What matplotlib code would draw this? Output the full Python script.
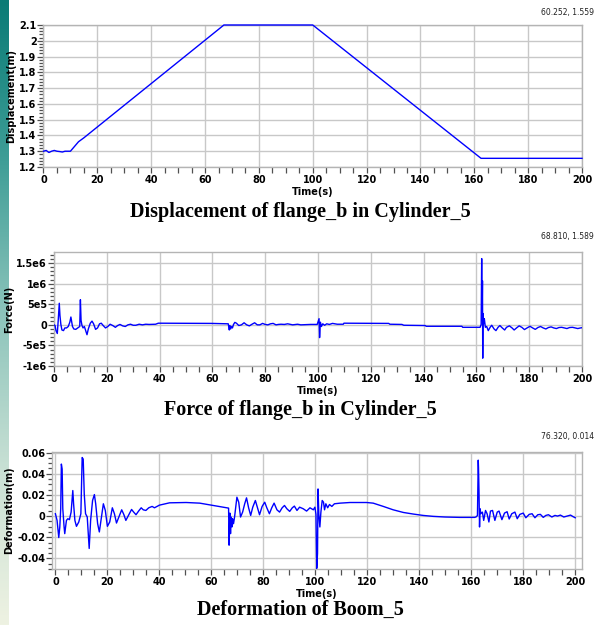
import numpy as np
import matplotlib
matplotlib.use("Agg")
import matplotlib.pyplot as plt
from matplotlib.ticker import MultipleLocator, FixedLocator, FixedFormatter
from matplotlib.colors import LinearSegmentedColormap

# ---------------- data ----------------
disp_t = [0, 1, 2, 3, 4, 5, 6, 7, 8, 9, 10, 11.5, 13, 15, 67, 100, 162.5, 200]
disp_m = [1.300, 1.305, 1.292, 1.300, 1.305, 1.300, 1.298, 1.295, 1.300, 1.300, 1.300,
          1.330, 1.360, 1.385, 2.100, 2.100, 1.255, 1.255]

force_t = [0, 0.4, 0.75, 1.25, 1.6, 2.0, 2.25, 2.6, 3.0, 3.6, 4.1, 4.75, 5.4, 6.0, 6.4, 6.6,
           7.0, 7.5, 8.25, 9.0, 9.75, 10.0, 10.25, 10.6, 11.0, 11.5, 12.0, 12.5, 13.0, 13.75,
           14.4, 15.0, 15.75, 16.5, 17.25, 17.9, 18.75, 19.5, 20.4, 21.25, 22.25, 23.25, 24.1,
           25.0, 26.0, 27.0, 28.0, 29.0, 30.0, 31.0, 32.25, 33.5, 34.75, 36.0, 38.5, 39.5,
           59.75, 66.0, 66.4, 66.6, 66.9, 67.3, 67.6, 68.0, 68.5, 69.1, 70.0, 71.0, 72.0, 73.0,
           74.0, 75.0, 76.0, 77.0, 78.0, 79.0, 80.0, 81.0, 82.0, 83.0, 84.1, 85.0, 86.0, 87.25,
           88.5, 90.4, 92.25, 93.5, 97.2, 99.7, 100.4, 100.6, 100.9, 101.3, 101.8, 102.5,
           103.3, 104.3, 105.5, 107.3, 109.6, 109.8, 126.8, 127.2, 131.8, 132.5, 140.6, 141.0,
           154.5, 154.8, 161.4, 161.8, 162.0, 162.15, 162.3, 162.4, 162.5, 162.8, 163.0, 163.4,
           163.9, 164.5, 165.2, 165.8, 166.7, 167.4, 168.2, 168.9, 169.8, 170.7, 171.4, 172.5,
           173.5, 174.3, 175.2, 176.2, 177.2, 178.2, 179.2, 180.3, 181.3, 182.3, 183.3, 184.3,
           185.3, 186.3, 187.3, 188.3, 189.3, 190.3, 191.3, 192.3, 193.3, 194.3, 195.3, 196.4,
           197.4, 198.4, 199.4, 200.0]
force_1e5N = [0, -0.17, -1.4, -2.1, 1.1, 5.25, 2.3, 0.1, -1.25, -1.4, -0.75, -0.75, -0.4, 0.65,
              1.9, 1.1, -0.4, -1.0, -1.1, -0.75, -0.4, 6.1, 1.1, -0.17, -0.75, -0.4, -1.4, -2.4,
              -1.0, 0.4, 0.9, 0.25, -1.1, -0.75, 0.25, 0.4, -0.25, -0.75, -0.4, 0.15, -0.17,
              -0.6, -0.17, 0.1, -0.25, -0.4, 0, 0.15, -0.1, -0.1, 0.15, 0, 0.15, 0.1, 0.15, 0.4,
              0.35, 0.25, -1.25, -0.17, -1.0, -0.4, -0.75, 0.1, 0.6, 0.4, -0.17, 0, 0.5, 0,
              -0.25, 0.15, 0.5, 0, 0, 0.35, 0.1, 0, 0.25, 0.35, 0, 0.1, 0.15, 0.1,
              0.25, 0, 0.15, 0, 0.1, 0.1, 1.5, -3.1, 0.65, -0.4, 0.25, -0.1,
              0.25, 0.1, 0.35, 0.15, 0.15, 0.4, 0.35, 0.15, 0.1, -0.1, -0.17, -0.35,
              -0.35, -0.6, -0.6, 0.1, 16.1, 1.1, 10.7, -8.1, 2.75, 0.25, 1.5, -0.6,
              -0.4, -1.4, -0.6, -0.1, -1.0, -1.4, -0.6, -0.17, -0.75, -1.25, -0.6, -0.25,
              -0.75, -1.25, -0.75, -0.25, -0.6, -1.15, -0.75, -0.35, -0.75, -1.1, -0.65, -0.4,
              -0.75, -1.0, -0.65, -0.5, -0.75, -0.9, -0.65, -0.6, -0.75, -0.9, -0.65, -0.6,
              -0.75, -0.9, -0.75, -0.7]

deform_t = [0, 0.65, 1.3, 1.7, 2.05, 2.3, 2.6, 2.85, 3.35, 3.6, 4.25, 4.8, 5.4, 6.05, 6.7, 7.0,
            7.5, 8.1, 9.0, 9.8, 10.3, 10.7, 11.1, 11.6, 12.25, 12.65, 13.0, 13.55, 14.3, 15.0,
            15.5, 16.25, 16.9, 17.7, 18.45, 19.2, 20.0, 20.9, 21.9, 22.7, 23.5, 24.4, 25.5,
            26.3, 27.1, 28.1, 29.3, 30.1, 31.0, 32.0, 33.0, 33.8, 34.8, 35.9, 37.2, 38.1, 40.0,
            43.9, 50.3, 55.5, 60.6, 66.6, 66.8, 67.1, 67.35, 67.6, 67.9, 68.1, 68.5, 68.9, 69.3,
            69.8, 70.5, 71.2, 72.0, 72.8, 73.5, 74.3, 75.1, 75.9, 76.9, 77.7, 78.5, 79.5, 80.5,
            81.3, 82.3, 83.2, 84.1, 85.2, 86.2, 87.2, 88.1, 89.0, 90.1, 91.1, 91.9, 92.9, 93.9,
            95.3, 96.6, 97.9, 99.2, 99.8, 100.2, 100.5, 100.8, 101.0, 101.3, 101.7, 102.1,
            102.6, 103.1, 103.5, 104.0, 104.7, 105.4, 106.3, 107.3, 109.5, 113.3, 119.7, 122.2,
            126.1, 129.9, 133.8, 137.6, 141.4, 145.3, 149.8, 155.5, 161.3, 161.9, 162.3, 162.6,
            162.7, 162.9, 163.1, 163.3, 163.6, 164.2, 164.7, 165.4, 166.0, 166.7, 167.3, 168.1,
            169.0, 169.9, 170.6, 171.7, 172.7, 173.7, 174.5, 175.5, 176.7, 177.6, 178.6, 179.9,
            180.9, 182.2, 183.3, 184.4, 185.5, 186.5, 187.6, 188.6, 189.6, 190.9, 192.1, 193.1,
            194.2, 195.5, 196.8, 198.1, 199.1, 199.9]
deform_mm = [2.2, -4.1, -20.3, -10.3, 6.9, 49.1, 44.4, 6.9, -10.3, -16.6, -4.1, -2.5, -3.4, 3.75,
             24.1, 11.6, -4.1, -9.7, -5.6, 2.2, 55.3, 53.8, 20.9, 2.2, -0.9, -16.6, -30.6, -4.1,
             14.7, 20.3, 11.6, -7.2, -15.0, -0.9, 11.6, 5.3, -9.7, -5.6, 7.8, 2.2, -6.6, -0.9,
             5.9, 1.6, -4.1, 0.6, 6.25, 3.75, 1.25, 4.7, 7.8, 5.9, 5.3, 7.8, 9.1, 7.8, 10.3,
             12.5, 12.8, 12.2, 10.0, 7.5, -27.5, 2.8, -16.6, -0.9, -10.3, -2.5, -7.2, -0.9, 7.8,
             17.8, 13.1, -0.9, 3.75, 11.6, 17.2, 7.8, 0.6, 8.4, 14.7, 7.8, 1.25, 9.1, 13.1,
             7.8, 2.2, 7.8, 12.2, 5.9, 3.75, 7.8, 10.0, 6.9, 4.4, 7.8, 9.4, 5.3, 8.4,
             6.9, 4.7, 7.8, 5.9, 8.4, 1.6, -49.4, -35.3, 25.6, 2.2, -10.3, 3.75,
             14.7, 13.1, 5.9, 11.6, 7.8, 10.9, 9.1, 11.6, 12.2, 12.8, 12.8, 12.2,
             9.1, 5.9, 3.4, 1.9, 0.6, -0.3, -0.9, -1.25, -1.25, -0.6, 0.6, 52.8,
             45.9, 22.5, -10.3, 6.9, 2.2, 3.75, -4.1, 5.3, 2.2, -5.6, 4.7, 5.3,
             -4.1, 3.75, 4.7, -3.4, 2.8, 4.1, -2.8, 2.2, 3.75, -2.5, 1.6, 2.8,
             -1.6, 1.6, 2.2, -1.6, 1.25, 1.6, -1.25, 0.6, 1.25, -0.9, 0.6, 0,
             0.9, -0.9, 0, 0.9, -0.6, -1.6]

x_ticks = [0, 20, 40, 60, 80, 100, 120, 140, 160, 180, 200]
disp_yticks = [1.2, 1.3, 1.4, 1.5, 1.6, 1.7, 1.8, 1.9, 2.0, 2.1]
disp_ylabels = ["1.2", "1.3", "1.4", "1.5", "1.6", "1.7", "1.8", "1.9", "2", "2.1"]
force_yticks = [-1e6, -5e5, 0, 5e5, 1e6, 1.5e6]
force_ylabels = ["-1e6", "-5e5", "0", "5e5", "1e6", "1.5e6"]
deform_yticks = [-0.04, -0.02, 0, 0.02, 0.04, 0.06]
deform_ylabels = ["-0.04", "-0.02", "0", "0.02", "0.04", "0.06"]

titles = ["Displacement of flange_b in Cylinder_5",
          "Force of flange_b in Cylinder_5",
          "Deformation of Boom_5"]
ylabels = ["Displacement(m)", "Force(N)", "Deformation(m)"]
corner_texts = ["60.252, 1.559", "68.810, 1.589", "76.320, 0.014"]

# ---------------- figure ----------------
W, H = 598, 625
fig = plt.figure(figsize=(W / 100, H / 100), dpi=100)
fig.patch.set_facecolor("white")

# left gradient strip
strip = fig.add_axes([0, 0, 9 / W, 1])
cmap = LinearSegmentedColormap.from_list(
    "strip", ["#0a7b76", "#3d9d96", "#8cc4bb", "#c8e0d4", "#eef2e2"])
strip.imshow(np.linspace(0, 1, 256).reshape(-1, 1), aspect="auto", cmap=cmap,
             extent=[0, 1, 0, 1], origin="upper")
strip.set_axis_off()


def px_axes(left, top, right, bottom):
    return fig.add_axes([left / W, 1 - bottom / H, (right - left) / W, (bottom - top) / H])


tick_font = dict(family="DejaVu Sans", weight="bold", size=7)


def style(ax, xlim, ylim, yticks, ylabels, yminor, ylabel):
    ax.set_xlim(*xlim)
    ax.set_ylim(*ylim)
    ax.xaxis.set_major_locator(FixedLocator(x_ticks))
    ax.xaxis.set_minor_locator(MultipleLocator(5))
    ax.yaxis.set_major_locator(FixedLocator(yticks))
    ax.yaxis.set_major_formatter(FixedFormatter(ylabels))
    ax.yaxis.set_minor_locator(MultipleLocator(yminor))
    ax.grid(True, which="major", color="#c8c8c8", linewidth=1.0)
    ax.set_axisbelow(True)
    for s in ax.spines.values():
        s.set_color("#b4b4b4")
        s.set_linewidth(1.0)
    ax.tick_params(axis="both", which="both", direction="out", colors="#505050",
                   labelcolor="black", width=0.9)
    ax.tick_params(axis="x", which="both", length=4, pad=2)
    ax.tick_params(axis="y", which="major", length=4, pad=1)
    ax.tick_params(axis="y", which="minor", length=3)
    for lab in ax.get_xticklabels() + ax.get_yticklabels():
        lab.set_fontfamily("DejaVu Sans")
        lab.set_fontweight("bold")
        lab.set_fontsize(7)
    ax.set_ylabel(ylabel, fontdict=tick_font, labelpad=2)
    ax.set_xlabel("Time(s)", fontdict=tick_font, labelpad=1)


line_kw = dict(color="#0000ff", linewidth=1.0, zorder=5)

ax1 = px_axes(43.5, 25, 582, 167)
ax1.plot(disp_t, disp_m, clip_on=False, **line_kw)
style(ax1, (0, 200), (1.2, 2.1), disp_yticks, disp_ylabels, 0.02, ylabels[0])

ax2 = px_axes(54, 252, 582, 366)
ax2.plot(force_t, np.array(force_1e5N) * 1e5, **line_kw)
style(ax2, (0, 200), (-1.0e6, 1.77e6), force_yticks, force_ylabels, 1e5, ylabels[1])

ax3 = px_axes(52, 452, 582, 569)
ax3.plot(deform_t, np.array(deform_mm) / 1000.0, **line_kw)
style(ax3, (-1.3, 202.5), (-0.05, 0.0605), deform_yticks, deform_ylabels, 0.005, ylabels[2])

title_font = dict(family="Liberation Serif", weight="bold", size=14.5)
for y, t in zip([212, 410, 610], titles):
    fig.text(300 / W, 1 - y / H, t, ha="center", va="center", **title_font)

for y, t in zip([12, 237, 437], corner_texts):
    fig.text(594 / W, 1 - y / H, t, ha="right", va="center",
             family="DejaVu Sans", size=5.5, color="#202020")

fig.savefig("out.png", dpi=100, facecolor="white")
